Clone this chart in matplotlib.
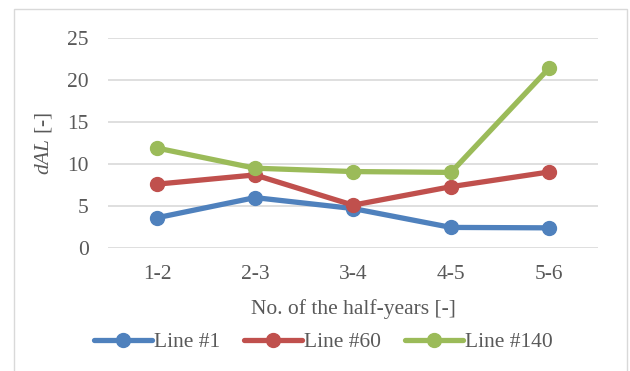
import matplotlib
matplotlib.use("Agg")
import matplotlib.pyplot as plt
from matplotlib.patches import Rectangle

# dAL per pair of half-years for three monitored lines
periods = ["1-2", "2-3", "3-4", "4-5", "5-6"]
line_1 = [3.6, 6.0, 4.7, 2.45, 2.4]
line_60 = [7.6, 8.7, 5.1, 7.3, 9.05]
line_140 = [11.9, 9.5, 9.1, 9.0, 21.4]
series_names = ["Line #1", "Line #60", "Line #140"]
yticks = [0, 5, 10, 15, 20, 25]

plt.rcParams['font.family'] = ['Liberation Serif', 'DejaVu Serif']
plt.rcParams['mathtext.fontset'] = 'custom'
plt.rcParams['mathtext.rm'] = 'Liberation Serif'
plt.rcParams['mathtext.it'] = 'Liberation Serif:italic'

txt = '#595959'
colors = ['#4F81BD', '#C0504D', '#9BBB59']
fs = 15.5

fig = plt.figure(figsize=(6.3, 3.71), dpi=100)
fig.patches.append(Rectangle((14 / 630, -0.05), 613 / 630, 1 - 9 / 371 + 0.05,
                             transform=fig.transFigure, fill=False,
                             edgecolor='#D9D9D9', linewidth=1.0))

ax = fig.add_axes([108 / 630, 1 - 248 / 371, 490 / 630, 210 / 371])
x = range(len(periods))
for vals, name, c in zip([line_1, line_60, line_140], series_names, colors):
    ax.plot(x, vals, color=c, linewidth=3.8, marker='o', markersize=10,
            label=name, solid_capstyle='round')

ax.set_xlim(-0.5, len(periods) - 0.5)
ax.set_ylim(0, 25)
ax.set_yticks(yticks)
ax.set_xticks(list(x))
ax.set_xticklabels(periods)
ax.grid(axis='y', color='#D9D9D9', linewidth=1.2)
ax.set_axisbelow(True)
for s in ax.spines.values():
    s.set_visible(False)
ax.tick_params(length=0, labelsize=fs, colors=txt)
ax.tick_params(axis='x', pad=12)
ax.tick_params(axis='y', pad=14)

ax.set_xlabel("No. of the half-years [-]", fontsize=fs, color=txt, labelpad=11)
ax.set_ylabel(r"$dAL$ [-]", fontsize=fs, color=txt, labelpad=9)

fig.legend(loc='center', bbox_to_anchor=(0.513, 1 - 342 / 371), ncol=3,
           frameon=False, fontsize=fs, labelcolor=txt, handlelength=2.7,
           handletextpad=0.1, columnspacing=1.1)

fig.savefig("out.png", dpi=100)
